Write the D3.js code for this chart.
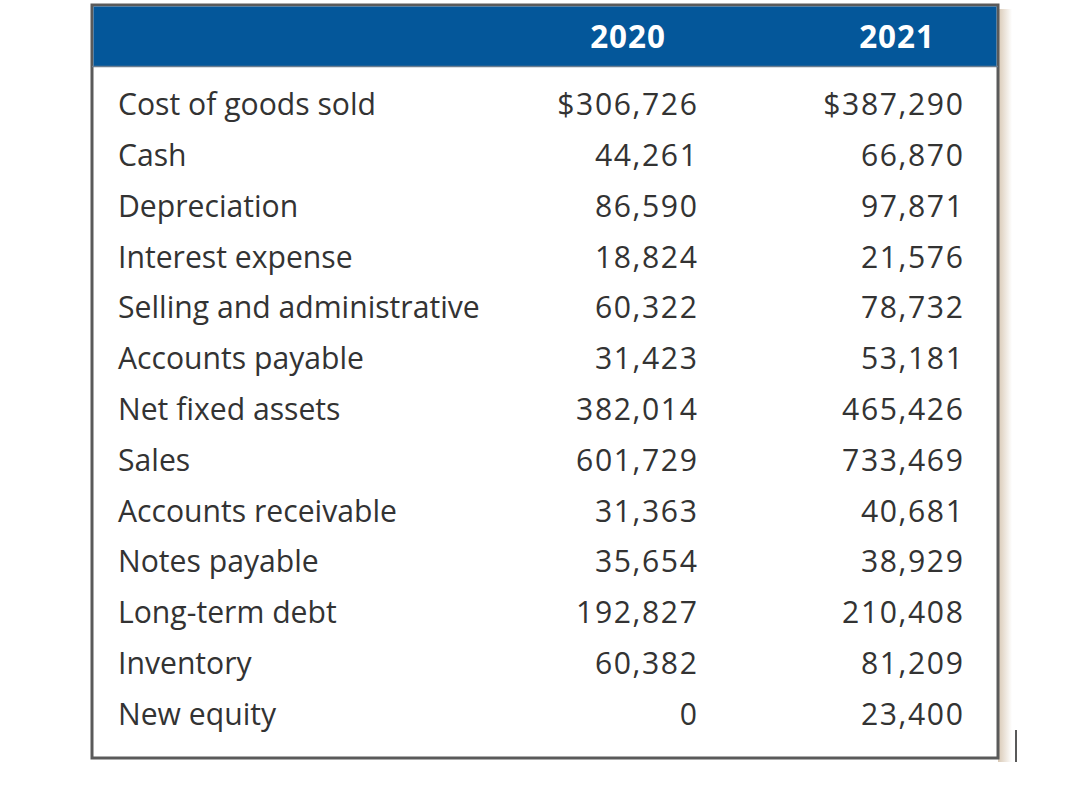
<!DOCTYPE html>
<html><head><meta charset="utf-8">
<script src="https://cdn.jsdelivr.net/npm/d3@7"></script>
<style>body{margin:0;background:#fff}svg{display:block}</style>
</head><body>
<svg id="c" width="1072" height="812"></svg>
<script>
const years = ["2020", "2021"];
const items = ["Cost of goods sold","Cash","Depreciation","Interest expense","Selling and administrative","Accounts payable","Net fixed assets","Sales","Accounts receivable","Notes payable","Long-term debt","Inventory","New equity"];
const values2020 = ["$306,726","44,261","86,590","18,824","60,322","31,423","382,014","601,729","31,363","35,654","192,827","60,382","0"];
const values2021 = ["$387,290","66,870","97,871","21,576","78,732","53,181","465,426","733,469","40,681","38,929","210,408","81,209","23,400"];

const svg = d3.select("#c");
const font = "'Open Sans', sans-serif";
const box = {x0: 92, y0: 5, x1: 998, y1: 758};
const headerH = 60;

const grad = svg.append("defs").append("linearGradient").attr("id","sh").attr("x1","0").attr("x2","1");
grad.append("stop").attr("offset","0").attr("stop-color","#d8c8b4");
grad.append("stop").attr("offset","1").attr("stop-color","#fff");
svg.append("rect").attr("x", box.x1).attr("y", box.y0+4).attr("width", 14).attr("height", box.y1-box.y0).attr("fill","url(#sh)");
svg.append("line").attr("x1",1016).attr("x2",1016).attr("y1",730).attr("y2",762).attr("stroke","#222").attr("stroke-width",1.5);

svg.append("rect").attr("x",box.x0).attr("y",box.y0).attr("width",box.x1-box.x0).attr("height",box.y1-box.y0)
  .attr("fill","#fff").attr("stroke","#5a5a5a").attr("stroke-width",3);
svg.append("rect").attr("x",box.x0+1.5).attr("y",box.y0+1.5).attr("width",box.x1-box.x0-3).attr("height",headerH)
  .attr("fill","#04579a");
svg.append("line").attr("x1",box.x0).attr("x2",box.x1).attr("y1",box.y0+headerH+1.5).attr("y2",box.y0+headerH+1.5).attr("stroke","#6a7d90").attr("stroke-width",1.5);

const y = d3.scaleBand().domain(items).range([80, 740]);
const colRight = d3.scaleOrdinal().domain(years).range([697, 963]);
const colCenter = d3.scaleOrdinal().domain(years).range([628, 897]);

const probe = svg.append("text").attr("font-family",font).attr("font-size",26).text("Selling and administrative");
const w = probe.node().getComputedTextLength();
probe.remove();
const fs = 26 * 362 / w;

svg.selectAll("text.h").data(years).join("text").attr("class","h")
  .attr("x", d => colCenter(d)).attr("y", 48).attr("text-anchor","middle")
  .attr("font-family", font).attr("font-weight", 700).attr("font-size", fs*1.04).attr("letter-spacing", 1)
  .attr("fill","#fff").text(d => d);

const rows = svg.selectAll("g.r").data(items).join("g").attr("class","r")
  .attr("transform", d => `translate(0,${y(d) + y.bandwidth()/2 + 10})`);
const col = "#333";
rows.append("text").attr("x",118).attr("font-family",font).attr("font-size",fs).attr("fill",col).text(d=>d);
rows.append("text").attr("x",colRight("2020")+1.5).attr("text-anchor","end").attr("font-family",font).attr("font-size",fs)
  .attr("letter-spacing",1.6).attr("fill",col).text((d,i)=>values2020[i]);
rows.append("text").attr("x",colRight("2021")+1.5).attr("text-anchor","end").attr("font-family",font).attr("font-size",fs)
  .attr("letter-spacing",1.6).attr("fill",col).text((d,i)=>values2021[i]);
</script>
</body></html>
